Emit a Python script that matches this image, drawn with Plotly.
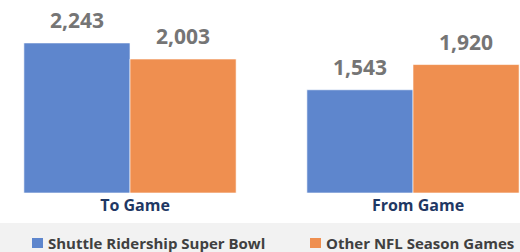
import plotly.graph_objects as go

categories = ["To Game", "From Game"]
series_names = ["Shuttle Ridership Super Bowl", "Other NFL Season Games"]
super_bowl = [2243, 1543]
other_games = [2003, 1920]

colors = ["#5E86CD", "#EF8F50"]
font_family = "'Open Sans', Lato, sans-serif"

W, H = 520, 252
plot_bottom = 193  # px from top

fig = go.Figure()
for name, vals, col in zip(series_names, [super_bowl, other_games], colors):
    fig.add_trace(go.Bar(
        x=categories, y=vals, name=name,
        marker=dict(color=col, line=dict(color="rgba(255,255,255,0.6)", width=1)),
        showlegend=False, hoverinfo="skip",
    ))

# value labels above bars
offsets = [-0.1875, 0.1875]
for vals, off in zip([super_bowl, other_games], offsets):
    for i, v in enumerate(vals):
        fig.add_annotation(
            x=i + off, y=v, xref="x", yref="y",
            text=f"<b>{v:,}</b>", showarrow=False,
            yanchor="middle", yshift=23,
            font=dict(family=font_family, size=21, color="#757575"),
        )

def py(px):
    return (plot_bottom - px) / plot_bottom

# gray legend band
fig.add_shape(type="rect", xref="paper", yref="paper",
              x0=0, x1=1, y0=py(223), y1=py(H + 2),
              fillcolor="#F2F2F2", line=dict(width=0), layer="below")

# custom legend
legend_x = [32, 310]
for name, col, lx in zip(series_names, colors, legend_x):
    fig.add_shape(type="rect", xref="paper", yref="paper",
                  x0=lx / W, x1=(lx + 11) / W, y0=py(248), y1=py(238),
                  fillcolor=col, line=dict(width=0))
    fig.add_annotation(
        x=(lx + 14) / W, y=py(242.5), xref="paper", yref="paper",
        xanchor="left", yanchor="middle", showarrow=False,
        text=f"<b>{name}</b>",
        font=dict(family=font_family, size=15, color="#404040"),
    )

fig.update_layout(
    width=W, height=H,
    margin=dict(l=0, r=0, t=0, b=H - plot_bottom, autoexpand=False),
    plot_bgcolor="white", paper_bgcolor="white",
    bargap=0.25, bargroupgap=0,
    barmode="group",
    showlegend=False,
    font=dict(family=font_family),
)
fig.update_xaxes(
    type="category", range=[-0.4594, 1.3781],
    showgrid=False, showline=False, zeroline=False, ticks="",
    tickfont=dict(family=font_family, size=16, color="#1F3864", weight="bold"),
    ticklabelstandoff=1, ticklabelshift=5,
)
fig.update_yaxes(range=[0, 2885], showgrid=False, showticklabels=False,
                 zeroline=False, showline=False)

fig.write_html("out.html", config={"displayModeBar": False},
               post_script="document.body.style.margin='0';")
